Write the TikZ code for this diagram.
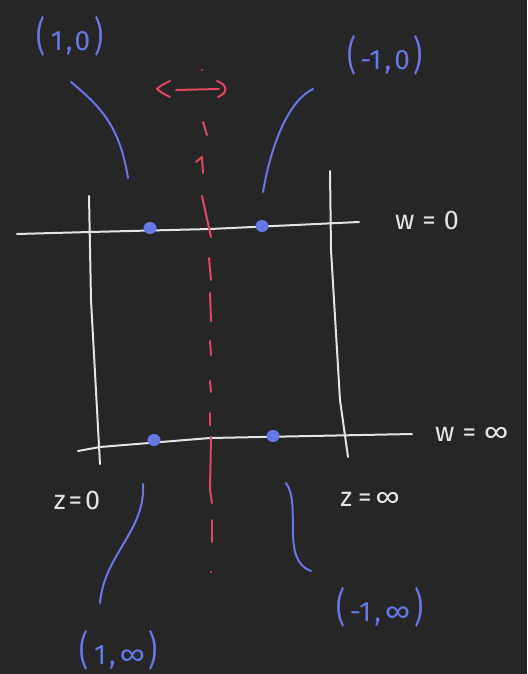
\documentclass[tikz,border=0pt]{standalone}
\usepackage{fontspec}
\setmainfont{Fira Sans}
\usepackage{graphicx}
\definecolor{bg}{HTML}{262626}
\definecolor{chalk}{HTML}{E4E4E4}
\definecolor{pen}{HTML}{6478E6}
\definecolor{ink}{HTML}{E0485E}
\newcommand{\bigpar}[1]{\scalebox{1}[1.45]{#1}}
\begin{document}
\begin{tikzpicture}[x=1pt,y=-1pt,line cap=round,line join=round,
  grid/.style={draw=chalk,line width=2pt},
  lead/.style={draw=pen,line width=2pt},
  axis/.style={draw=ink,line width=2pt},
  pt/.style={fill=pen,draw=none},
  wlab/.style={text=chalk,font=\fontsize{27}{27}\selectfont\addfontfeatures{LetterSpace=4},inner sep=0pt},
  blab/.style={text=pen,font=\fontsize{28}{28}\selectfont,inner sep=0pt}]
\fill[bg] (0,0) rectangle (527,674);
\useasboundingbox (0,0) rectangle (527,674);

% grid lines
\draw[grid] (17,234) -- (90,232) -- (210,229) -- (359,222);
\draw[grid] (78,451) -- (100,447) -- (210,438) -- (412,434);
\draw[grid] (89,196) -- (91,300) -- (100,464);
\draw[grid] (330,171) -- (331,250) -- (340,400) -- (348,457);

% red axis
\fill[ink] (202,70) circle (1.2);
\draw[axis] (203,122) -- (207,135);
\draw[axis] (196,162) -- (202,157) -- (203,173);
\draw[axis] (202,196) -- (211,237);
\draw[axis] (209,258) -- (211,280);
\draw[axis] (210,293) -- (211,321);
\draw[axis] (210,341) -- (211,355);
\draw[axis] (210,381) -- (211,392);
\draw[axis] (210,413) -- (210,425);
\draw[axis] (211,437) -- (210,490) -- (212,503);
\draw[axis] (212,520) -- (212,542);
\fill[ink] (211,572) circle (1.2);
% red double arrow
\draw[axis] (170,81) .. controls (160,86) .. (157,89) .. controls (162,93) .. (170,97);
\draw[axis] (176,90) -- (219,89);
\draw[axis] (217,81) .. controls (228,85) and (228,93) .. (218,97);

% points
\coordinate (p10) at (150,228);
\coordinate (pm10) at (262,226);
\coordinate (p1i) at (154,440);
\coordinate (pm1i) at (273,436);
\foreach \p in {p10,pm10,p1i,pm1i}
  \fill[pt] (\p) ellipse (6.5 and 6);

% labels
\node[blab] (l10) at (70,36) {\bigpar{(}\hspace{5pt}1\hspace{3pt},\hspace{2pt}0\hspace{4pt}\bigpar{)}};
\node[blab] (lm10) at (385,55) {\bigpar{(}\hspace{4pt}-1\hspace{3pt},\hspace{3pt}0\hspace{4pt}\bigpar{)}};
\node[blab] (l1i) at (119,650) {\bigpar{(}\hspace{5pt}1\hspace{3pt},\hspace{4pt}∞\hspace{4pt}\bigpar{)}};
\node[blab] (lm1i) at (380,607) {\bigpar{(}\hspace{4pt}-1\hspace{3pt},\hspace{4pt}∞\hspace{4pt}\bigpar{)}};
\node[wlab] (w0) at (427,220) {w\hspace{8pt}=\hspace{8pt}0};
\node[wlab,anchor=west] (wi) at (435,434) {w\hspace{8pt}=\hspace{8pt}∞};
\node[wlab] (z0) at (77,500) {z\hspace{3pt}=\hspace{3pt}0};
\node[wlab] (zi) at (370,499) {z\hspace{6pt}=\hspace{4pt}∞};

% leader curves
\coordinate (a1) at (71,82);  \coordinate (a2) at (128,178);
\draw[lead] (a1) .. controls (105,110) and (120,130) .. (a2);
\coordinate (b1) at (313,89); \coordinate (b2) at (263,192);
\draw[lead] (b1) .. controls (290,100) and (272,140) .. (b2);
\coordinate (c1) at (143,484); \coordinate (c2) at (100,603);
\draw[lead] (c1) .. controls (146,530) and (104,555) .. (c2);
\coordinate (d1) at (286,483); \coordinate (d2) at (311,571);
\draw[lead] (d1) .. controls (302,505) and (280,560) .. (d2);
\end{tikzpicture}
\end{document}
